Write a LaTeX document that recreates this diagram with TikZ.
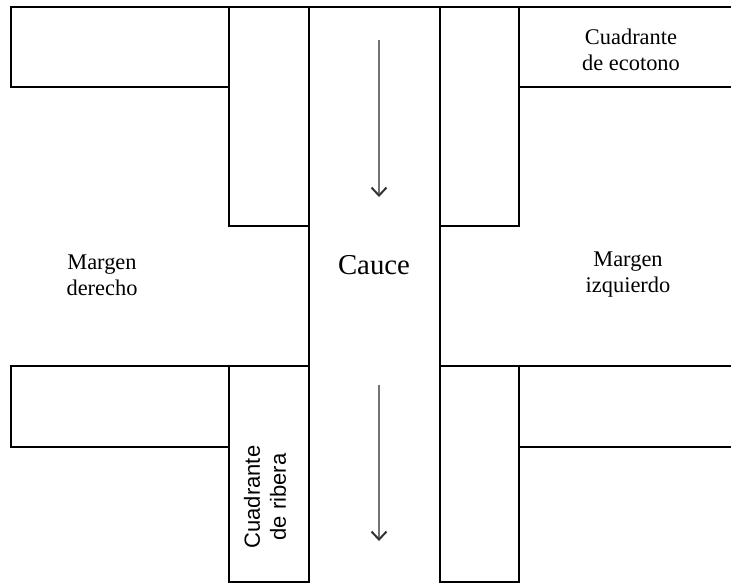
\documentclass[tikz,border=0pt]{standalone}
\usepackage{fontspec}
\setmainfont{Liberation Serif}
\newfontfamily\ribfont{Liberation Sans}
\usetikzlibrary{arrows.meta}

\begin{document}
\begin{tikzpicture}[x=0.5pt,y=-0.5pt,
    edge/.style={line width=1pt,line join=miter},
    flow/.style={draw=black!55,line width=0.8pt,-{Straight Barb[length=4pt,width=7.5pt,line width=1pt,black!80]}},
    lbl/.style={align=center,inner sep=0pt,font=\fontsize{11.2}{13}\selectfont}]
    \useasboundingbox (0,0) rectangle (731,584);

    % Top row
    \draw[edge] (11,7) -- (731,7);
    \draw[edge] (11,7) rectangle (229,87);
    \draw[edge] (229,7) rectangle (309,226);
    \draw[edge] (440,7) rectangle (519,226);
    \draw[edge] (519,87) -- (731,87);

    % Channel
    \draw[edge] (309,7) -- (309,582);
    \draw[edge] (440,7) -- (440,582);

    % Bottom row
    \draw[edge] (11,366) -- (309,366);
    \draw[edge] (440,366) -- (731,366);
    \draw[edge] (11,366) rectangle (229,447);
    \draw[edge] (229,366) rectangle (309,582);
    \draw[edge] (440,366) rectangle (519,582);
    \draw[edge] (519,447) -- (731,447);

    % Flow direction
    \coordinate (up1) at (379,40);
    \coordinate (up2) at (379,197);
    \coordinate (dn1) at (379,385);
    \coordinate (dn2) at (379,541);
    \draw[flow] (up1) -- (up2);
    \draw[flow] (dn1) -- (dn2);

    % Labels
    \node[lbl] (ecotono) at (631,50) {Cuadrante\\de ecotono};
    \node[lbl] (derecho) at (102,275) {Margen\\derecho};
    \node[lbl] (izquierdo) at (628,275) {Margen\\izquierdo};
    \node[lbl,font=\fontsize{14.4}{16}\selectfont] (cauce) at (374,265) {Cauce};
    \node[lbl,font=\ribfont\fontsize{11}{13}\selectfont,rotate=90] (ribera) at (265,497) {Cuadrante\\de ribera};
\end{tikzpicture}
\end{document}
